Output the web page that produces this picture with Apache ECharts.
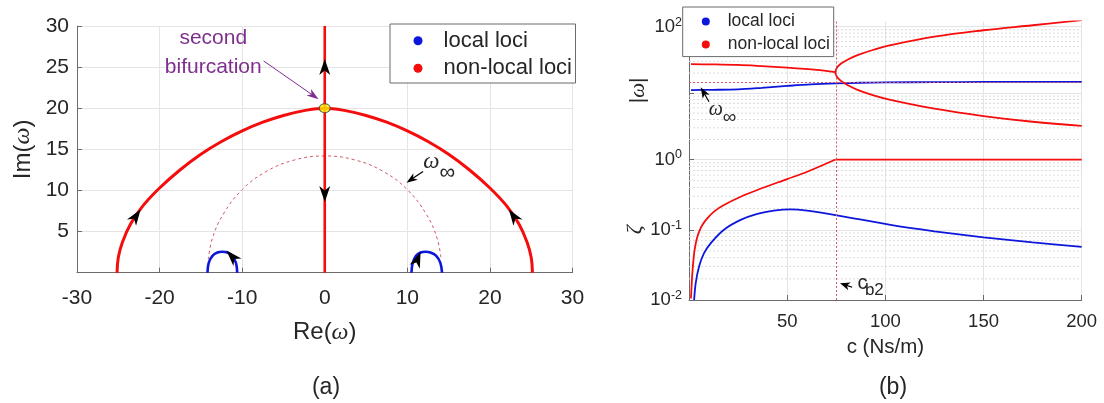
<!DOCTYPE html>
<html>
<head>
<meta charset="utf-8">
<script src="https://cdn.jsdelivr.net/npm/echarts@6/dist/echarts.min.js"></script>
<style>
html, body { margin: 0; padding: 0; background: #fff; }
#chart { width: 1104px; height: 403px; }
</style>
</head>
<body>
<div id="chart"></div>
<script>
// ---------- (a) root loci in the complex plane ----------
const nonLocalArcRe = [-25.15, -25, -24.5, -23.5, -22, -20, -17.5, -15, -12.5, -10, -7.5, -5, -2.5, 0,
  2.5, 5, 7.5, 10, 12.5, 15, 17.5, 20, 22, 23.5, 24.5, 25, 25.15];
const nonLocalArcIm = [0, 1.85, 3.7, 5.95, 8.15, 10.3, 12.52, 14.4, 15.95, 17.24, 18.3, 19.12, 19.71, 20.0,
  19.71, 19.12, 18.3, 17.24, 15.95, 14.4, 12.52, 10.3, 8.15, 5.95, 3.7, 1.85, 0];
const nonLocalAxisRe = [0, 0];
const nonLocalAxisIm = [0, 30];
const localLeftRe = [-10.6, -10.75, -11.2, -11.8, -12.4, -13.0, -13.6, -14.05, -14.2];
const localLeftIm = [0, 1.2, 2.05, 2.45, 2.55, 2.45, 2.05, 1.2, 0];
const localRightRe = [10.5, 10.65, 11.05, 11.6, 12.2, 12.8, 13.5, 14.0, 14.2];
const localRightIm = [0, 1.2, 2.05, 2.45, 2.55, 2.45, 2.05, 1.2, 0];
const omegaInfRe = [-14.1, -13.6, -12.3, -10.0, -7.1, -3.7, 0, 3.7, 7.1, 10.0, 12.3, 13.6, 14.1];
const omegaInfIm = [1.6, 4.2, 7.1, 10.1, 12.3, 13.7, 14.2, 13.7, 12.3, 10.1, 7.1, 4.2, 1.6];
const bifurcationRe = [0];
const bifurcationIm = [20];

// ---------- (b) |omega| and zeta against damping c ----------
const localFreqC = [1, 12, 25, 37, 50, 62, 75, 87, 100, 125, 150, 200];
const localFreq = [11.1, 11.2, 11.4, 12.0, 12.8, 13.5, 14.0, 14.3, 14.5, 14.6, 14.7, 14.7];
const nonLocalFreqC = [1, 12, 25, 37, 50, 65, 74.6];
const nonLocalFreq = [27.2, 27.0, 26.5, 25.4, 24.1, 22.3, 20.6];
// split branches after the second bifurcation: upper run from c = 200 back to the split, then the lower run
const splitBranchC = [200, 175, 150, 125, 102.6, 94.0, 85.8, 80.7, 77.65, 76.1, 75.1, 74.6,
  75.1, 76.1, 77.65, 80.7, 85.8, 94.0, 102.6, 125, 150, 175, 200];
const splitBranch = [125, 105, 88.3, 70.7, 52.6, 44.9, 37.2, 31.8, 28.1, 25.6, 23.3, 20.6,
  18.1, 16.5, 15.1, 13.2, 11.2, 9.27, 7.93, 5.84, 4.51, 3.70, 3.20];
const localDampC = [2.6, 3.4, 5.1, 7.6, 11, 17.8, 26.3, 34.8, 43.2, 51.7, 60.2, 74.6, 102.6, 125, 150, 175, 200];
const localDamp = [0.01, 0.0173, 0.0298, 0.046, 0.064, 0.1, 0.138, 0.168, 0.187, 0.195, 0.187, 0.162, 0.117, 0.095, 0.078, 0.066, 0.057];
const nonLocalDampC = [1.0, 1.7, 2.6, 3.4, 4.3, 5.5, 6.8, 9.4, 13, 17.8, 26.3, 34.8, 50, 60.2, 74.6];
const nonLocalDamp = [0.0105, 0.024, 0.046, 0.063, 0.080, 0.099, 0.117, 0.146, 0.184, 0.225, 0.295, 0.368, 0.527, 0.67, 1.0];
const criticalDampC = [74.6, 200];
const criticalDamp = [1.0, 1.0];
const omegaInfLevel = 14.8;
const cB2 = 75;

// tick labels and legend entries
const reTickLabels = [-30, -20, -10, 0, 10, 20, 30];
const imTickLabels = [5, 10, 15, 20, 25, 30];
const cTickLabels = [50, 100, 150, 200];
const freqDecadeLabels = [2];
const dampDecadeLabels = [-2, -1, 0];
const minorSteps = [2, 3, 4, 5, 6, 7, 8, 9];
const legendNames = ['local loci', 'non-local loci'];

const RED = '#f50c0c';
const BLUE = '#0d17dc';
const DASH = '#cf5a66';
const TXT = '#262626';
const AX = '#6b6b6b';
const GRIDC = '#e4e4e4';
const SANS = '"Liberation Sans", Arial, sans-serif';
const SERIF = '"Liberation Serif", "DejaVu Serif", serif';
const PURPLE = '#7e2f8e';
const legendColors = [BLUE, RED];

const zip = (xs, ys) => xs.map((x, i) => [x, ys[i]]);

function minorGridData(decades) {
  const out = [];
  decades.forEach(d => minorSteps.forEach(m => {
    out.push([0, m * d], [200, m * d], ['-', '-']);
  }));
  return out;
}

function logLabel(allowed) {
  return function (v) {
    const e = Math.round(Math.log10(v) * 1000) / 1000;
    if (!Number.isInteger(e) || allowed.indexOf(e) < 0) return '';
    return '{b|10}{e|' + e + '}';
  };
}

const logRich = {
  b: { fontSize: 18.5, fontFamily: SANS, color: TXT, lineHeight: 22 },
  e: { fontSize: 12.5, fontFamily: SANS, color: TXT, lineHeight: 12, verticalAlign: 'top', padding: [0, 0, 10, 0] }
};

const lineBase = { type: 'line', showSymbol: false, symbol: 'none', silent: true, animation: false };

const option = {
  animation: false,
  backgroundColor: '#fff',
  textStyle: { fontFamily: SANS },
  grid: [
    { left: 77, right: 531.5, top: 26, bottom: 130.3, containLabel: false, outerBoundsMode: 'none' },
    { left: 689, right: 22.3, top: 21.4, bottom: 243.5, containLabel: false, outerBoundsMode: 'none' },
    { left: 689, right: 22.3, top: 159.5, bottom: 103, containLabel: false, outerBoundsMode: 'none' }
  ],
  xAxis: [
    {
      gridIndex: 0, type: 'value', min: -30, max: 30, interval: 10,
      axisLine: { show: true, onZero: false, lineStyle: { color: AX, width: 1 } },
      axisTick: { show: true, inside: true, length: 5, lineStyle: { color: AX } },
      axisLabel: { fontSize: 21, color: TXT, margin: 15, fontFamily: SANS,
        formatter: v => reTickLabels.indexOf(v) >= 0 ? String(v) : '' },
      splitLine: { show: true, lineStyle: { color: GRIDC, width: 1 } },
      name: '{n|Re(}{w|ω}{n|)}', nameLocation: 'middle', nameGap: 48,
      nameTextStyle: { rich: {
        n: { fontSize: 24, color: TXT, fontFamily: SANS },
        w: { fontSize: 24, color: TXT, fontFamily: SERIF, fontStyle: 'italic' } } }
    },
    {
      gridIndex: 1, type: 'value', min: 0, max: 200, interval: 50,
      axisLine: { show: false }, axisTick: { show: false }, axisLabel: { show: false },
      splitLine: { show: true, lineStyle: { color: GRIDC, width: 1 } }
    },
    {
      gridIndex: 2, type: 'value', min: 0, max: 200, interval: 50,
      axisLine: { show: true, onZero: false, lineStyle: { color: AX, width: 1 } },
      axisTick: { show: true, inside: true, length: 5, lineStyle: { color: AX } },
      axisLabel: { fontSize: 18.5, color: TXT, margin: 12, fontFamily: SANS,
        formatter: v => cTickLabels.indexOf(v) >= 0 ? String(v) : '' },
      splitLine: { show: true, lineStyle: { color: GRIDC, width: 1 } },
      name: 'c (Ns/m)', nameLocation: 'middle', nameGap: 37,
      nameTextStyle: { fontSize: 20.5, color: TXT, fontFamily: SANS }
    }
  ],
  yAxis: [
    {
      gridIndex: 0, type: 'value', min: 0, max: 30, interval: 5,
      axisLine: { show: true, onZero: false, lineStyle: { color: AX, width: 1 } },
      axisTick: { show: true, inside: true, length: 5, lineStyle: { color: AX } },
      axisLabel: { fontSize: 21, color: TXT, margin: 8, fontFamily: SANS,
        formatter: v => imTickLabels.indexOf(v) >= 0 ? String(v) : '' },
      splitLine: { show: true, lineStyle: { color: GRIDC, width: 1 } },
      name: '{n|Im(}{w|ω}{n|)}', nameLocation: 'middle', nameGap: 42,
      nameTextStyle: { rich: {
        n: { fontSize: 24, color: TXT, fontFamily: SANS },
        w: { fontSize: 24, color: TXT, fontFamily: SERIF, fontStyle: 'italic' } } }
    },
    {
      gridIndex: 1, type: 'log', logBase: 10, min: 1, max: 120,
      axisLine: { show: true, onZero: false, lineStyle: { color: AX, width: 1 } },
      axisTick: { show: true, inside: true, length: 5, lineStyle: { color: AX } },
      axisLabel: { margin: 7, formatter: logLabel(freqDecadeLabels), rich: logRich },
      splitLine: { show: true, showMaxLine: false, lineStyle: { color: GRIDC, width: 1 } },
      name: '|{w|ω}|', nameLocation: 'middle', nameGap: 40,
      nameTextStyle: { fontSize: 21, color: TXT, fontFamily: SANS, rich: {
        w: { fontSize: 21, color: TXT, fontFamily: SERIF, fontStyle: 'italic' } } }
    },
    {
      gridIndex: 2, type: 'log', logBase: 10, min: 0.01, max: 1,
      axisLine: { show: true, onZero: false, lineStyle: { color: AX, width: 1 } },
      axisTick: { show: true, inside: true, length: 5, lineStyle: { color: AX } },
      axisLabel: { margin: 7, formatter: logLabel(dampDecadeLabels), rich: logRich },
      splitLine: { show: true, lineStyle: { color: GRIDC, width: 1 } },
      name: '{w|ζ}', nameLocation: 'middle', nameGap: 40,
      nameTextStyle: { rich: {
        w: { fontSize: 22, color: TXT, fontFamily: SERIF, fontStyle: 'italic' } } }
    }
  ],
  series: [
    // minor log grid of panel (b)
    Object.assign({}, lineBase, { name: 'minorGridTop', xAxisIndex: 1, yAxisIndex: 1, z: 0,
      data: minorGridData([1, 10]), connectNulls: false,
      lineStyle: { color: '#dcdcdc', width: 1, type: [2, 2] } }),
    Object.assign({}, lineBase, { name: 'minorGridBottom', xAxisIndex: 2, yAxisIndex: 2, z: 0,
      data: minorGridData([0.01, 0.1]), connectNulls: false,
      lineStyle: { color: '#dcdcdc', width: 1, type: [2, 2] } }),

    // ---- panel (a) ----
    Object.assign({}, lineBase, { name: 'omegaInf', xAxisIndex: 0, yAxisIndex: 0, smooth: 0.4,
      data: zip(omegaInfRe, omegaInfIm), lineStyle: { color: DASH, width: 1, type: [3, 3] } }),
    Object.assign({}, lineBase, { name: 'non-local loci', xAxisIndex: 0, yAxisIndex: 0, smooth: 0.4,
      data: zip(nonLocalArcRe, nonLocalArcIm), itemStyle: { color: RED }, lineStyle: { color: RED, width: 3 } }),
    Object.assign({}, lineBase, { name: 'non-local loci', xAxisIndex: 0, yAxisIndex: 0,
      data: zip(nonLocalAxisRe, nonLocalAxisIm), itemStyle: { color: RED }, lineStyle: { color: RED, width: 2.6 } }),
    Object.assign({}, lineBase, { name: 'local loci', xAxisIndex: 0, yAxisIndex: 0, smooth: 0.4,
      data: zip(localLeftRe, localLeftIm), itemStyle: { color: BLUE }, lineStyle: { color: BLUE, width: 2.6 } }),
    Object.assign({}, lineBase, { name: 'local loci', xAxisIndex: 0, yAxisIndex: 0, smooth: 0.4,
      data: zip(localRightRe, localRightIm), itemStyle: { color: BLUE }, lineStyle: { color: BLUE, width: 2.6 } }),
    { type: 'scatter', name: 'bifurcation', xAxisIndex: 0, yAxisIndex: 0, silent: true, z: 10,
      data: zip(bifurcationRe, bifurcationIm), symbol: 'circle', symbolSize: [11, 9],
      itemStyle: { color: '#ffee00', borderColor: '#3a3a3a', borderWidth: 1 } },

    // ---- panel (b), |omega| ----
    Object.assign({}, lineBase, { name: 'local loci', xAxisIndex: 1, yAxisIndex: 1, smooth: 0.3,
      data: zip(localFreqC, localFreq), itemStyle: { color: BLUE }, lineStyle: { color: BLUE, width: 1.8 },
      markLine: { silent: true, symbol: 'none', label: { show: false }, animation: false,
        lineStyle: { color: DASH, width: 1, type: [2, 2] },
        data: [{ yAxis: omegaInfLevel }, { xAxis: cB2 }] } }),
    Object.assign({}, lineBase, { name: 'non-local loci', xAxisIndex: 1, yAxisIndex: 1, smooth: 0.3,
      data: zip(nonLocalFreqC, nonLocalFreq), itemStyle: { color: RED }, lineStyle: { color: RED, width: 1.8 } }),
    Object.assign({}, lineBase, { name: 'non-local loci', xAxisIndex: 1, yAxisIndex: 1, smooth: 0.4,
      data: zip(splitBranchC, splitBranch), itemStyle: { color: RED }, lineStyle: { color: RED, width: 1.8 } }),

    // ---- panel (b), zeta ----
    Object.assign({}, lineBase, { name: 'local loci', xAxisIndex: 2, yAxisIndex: 2, smooth: 0.3,
      data: zip(localDampC, localDamp), itemStyle: { color: BLUE }, lineStyle: { color: BLUE, width: 1.8 },
      markLine: { silent: true, symbol: 'none', label: { show: false }, animation: false,
        lineStyle: { color: DASH, width: 1, type: [2, 2] },
        data: [{ xAxis: cB2 }] } }),
    Object.assign({}, lineBase, { name: 'non-local loci', xAxisIndex: 2, yAxisIndex: 2, smooth: 0.3,
      data: zip(nonLocalDampC, nonLocalDamp), itemStyle: { color: RED }, lineStyle: { color: RED, width: 1.8 } }),
    Object.assign({}, lineBase, { name: 'non-local loci', xAxisIndex: 2, yAxisIndex: 2,
      data: zip(criticalDampC, criticalDamp), itemStyle: { color: RED }, lineStyle: { color: RED, width: 1.8 } })
  ]
};

const chart = echarts.init(document.getElementById('chart'), null, { renderer: 'canvas' });
chart.setOption(option);

// ---------- arrows, legends and annotation text ----------
const px = (i, p) => chart.convertToPixel({ xAxisIndex: i, yAxisIndex: i }, p);

function headShape(tip, back, len, wid, color) {
  const dx = tip[0] - back[0], dy = tip[1] - back[1];
  const d = Math.hypot(dx, dy) || 1;
  const ux = dx / d, uy = dy / d, nx = -uy, ny = ux;
  const pts = [
    tip,
    [tip[0] - ux * len + nx * wid / 2, tip[1] - uy * len + ny * wid / 2],
    [tip[0] - ux * len * 0.72, tip[1] - uy * len * 0.72],
    [tip[0] - ux * len - nx * wid / 2, tip[1] - uy * len - ny * wid / 2]
  ];
  return { type: 'polygon', silent: true, z: 100, shape: { points: pts }, style: { fill: color } };
}

function flowArrow(i, tipData, backData) {
  return headShape(px(i, tipData), px(i, backData), 16, 11, '#000');
}

function pointer(i, tailData, tipData, color, len, wid, width) {
  const tip = px(i, tipData), tail = px(i, tailData);
  const dx = tip[0] - tail[0], dy = tip[1] - tail[1];
  const d = Math.hypot(dx, dy);
  const base = [tip[0] - dx / d * len * 0.7, tip[1] - dy / d * len * 0.7];
  return [
    { type: 'line', silent: true, z: 99, shape: { x1: tail[0], y1: tail[1], x2: base[0], y2: base[1] },
      style: { stroke: color, lineWidth: width } },
    headShape(tip, tail, len, wid, color)
  ];
}

function label(i, at, text, size, family, style, color, align) {
  const p = px(i, at);
  return { type: 'text', silent: true, z: 101, x: p[0], y: p[1],
    style: { text: text, fontSize: size, fontFamily: family, fontStyle: style || 'normal',
      fill: color || TXT, align: align || 'center', verticalAlign: 'middle' } };
}

function legendBox(box, dotX, textX, rows, dotR, fontSize) {
  const out = [{ type: 'rect', silent: true, z: 200,
    shape: { x: box[0], y: box[1], width: box[2], height: box[3] },
    style: { fill: '#fff', stroke: AX, lineWidth: 1 } }];
  legendNames.forEach((name, k) => {
    out.push({ type: 'circle', silent: true, z: 201, shape: { cx: dotX, cy: rows[k], r: dotR },
      style: { fill: legendColors[k] } });
    out.push({ type: 'text', silent: true, z: 201, x: textX, y: rows[k],
      style: { text: name, fontSize: fontSize, fontFamily: SANS, fill: TXT, align: 'left', verticalAlign: 'middle' } });
  });
  return out;
}

const graphics = [];
// flow direction along the loci of panel (a)
graphics.push(flowArrow(0, [-22.3, 7.7], [-23.5, 5.95]));
graphics.push(flowArrow(0, [22.3, 7.7], [23.5, 5.95]));
graphics.push(flowArrow(0, [0, 26.0], [0, 24.3]));
graphics.push(flowArrow(0, [0, 8.6], [0, 11.0]));
graphics.push(flowArrow(0, [-11.9, 2.7], [-10.5, 1.2]));
graphics.push(flowArrow(0, [11.6, 2.55], [10.9, 0.75]));
// annotations of panel (a)
graphics.push(...pointer(0, [-7.4, 25.75], [-0.75, 21.1], PURPLE, 12, 8, 1));
graphics.push(label(0, [-13.5, 28.5], 'second', 21, SANS, 'normal', PURPLE));
graphics.push(label(0, [-13.5, 25.05], 'bifurcation', 21, SANS, 'normal', PURPLE));
graphics.push(...pointer(0, [11.9, 12.3], [9.9, 10.95], '#000', 11, 8, 1.2));
graphics.push(label(0, [12.9, 13.5], 'ω', 23, SERIF, 'italic'));
graphics.push(label(0, [14.85, 12.1], '∞', 22, SANS, 'normal'));
// annotations of panel (b)
graphics.push(...pointer(1, [10.2, 7.4], [5.95, 12.2], '#000', 11, 8, 1.2));
graphics.push(label(1, [13.6, 5.6], 'ω', 20, SERIF, 'italic'));
graphics.push(label(1, [20.7, 4.2], '∞', 19, SANS, 'normal'));
graphics.push(...pointer(2, [83.1, 0.0152], [76.9, 0.0173], '#000', 10, 8, 1.2));
graphics.push(label(2, [88.4, 0.0173], 'c', 20, SANS, 'normal'));
graphics.push(label(2, [94.4, 0.0136], 'b2', 17, SANS, 'normal'));
// legends
graphics.push(...legendBox([390, 24, 185.5, 59], 418, 443.6, [40.7, 68.3], 4.5, 22));
graphics.push(...legendBox([682.7, 7, 151, 49.6], 705.8, 727.7, [21.5, 44.4], 4, 17.5));
// panel captions
graphics.push({ type: 'text', silent: true, x: 326, y: 388,
  style: { text: '(a)', fontSize: 23, fontFamily: SANS, fill: TXT, align: 'center', verticalAlign: 'middle' } });
graphics.push({ type: 'text', silent: true, x: 893, y: 388,
  style: { text: '(b)', fontSize: 23, fontFamily: SANS, fill: TXT, align: 'center', verticalAlign: 'middle' } });

chart.setOption({ graphic: graphics });
</script>
</body>
</html>
